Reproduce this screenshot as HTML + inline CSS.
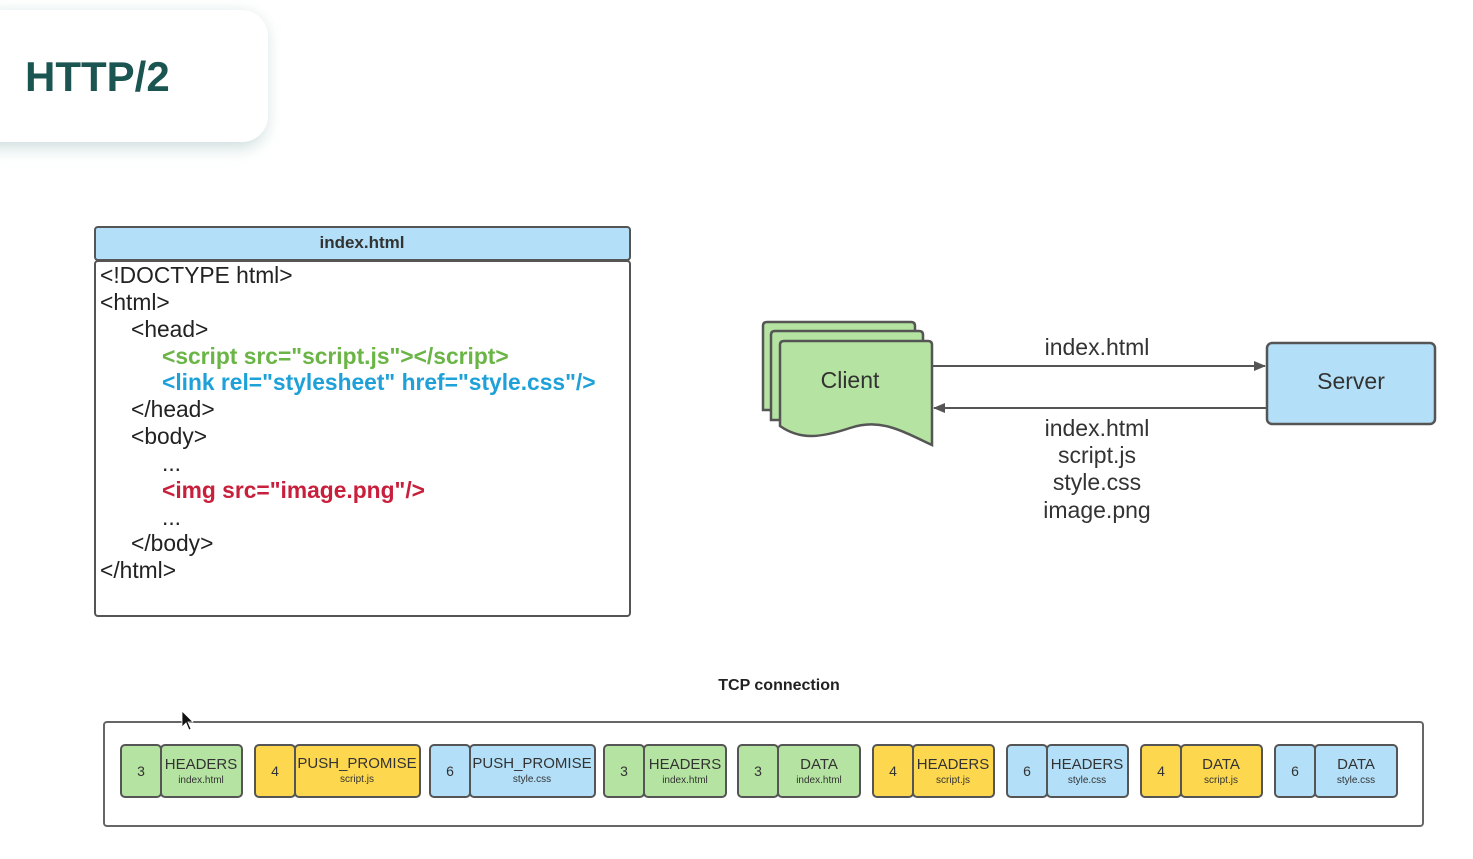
<!DOCTYPE html>
<html><head><meta charset="utf-8"><style>
html,body{margin:0;padding:0;background:#fff;}
svg{display:block;font-family:"Liberation Sans",sans-serif;}
</style></head><body>
<svg width="1473" height="859" viewBox="0 0 1473 859" xmlns="http://www.w3.org/2000/svg">
<defs>
<filter id="sh" x="-20%" y="-30%" width="150%" height="170%"><feGaussianBlur stdDeviation="8"/></filter>
<marker id="ah" markerWidth="12" markerHeight="10" refX="11" refY="5" orient="auto" markerUnits="userSpaceOnUse"><path d="M0,0 L12,5 L0,10 z" fill="#555"/></marker>
</defs>
<rect x="-30" y="14" width="296" height="134" rx="26" fill="#cfdede" filter="url(#sh)"/>
<rect x="-30" y="10" width="298" height="132" rx="26" fill="#fff"/>
<text x="25" y="91" font-size="42" font-weight="bold" fill="#1b5552">HTTP/2</text>

<!-- index.html box -->
<rect x="95" y="227" width="535" height="33" rx="3" fill="#b3e0f8" stroke="#555" stroke-width="2"/>
<text x="362" y="248" font-size="17" font-weight="bold" text-anchor="middle" fill="#333">index.html</text>
<rect x="95" y="261" width="535" height="355" rx="3" fill="#fff" stroke="#555" stroke-width="2"/>
<g font-size="22.8" fill="#222">
<text x="100" y="283">&lt;!DOCTYPE html&gt;</text>
<text x="100" y="310">&lt;html&gt;</text>
<text x="131" y="337">&lt;head&gt;</text>
<text x="162" y="364" fill="#6ab545" font-weight="bold">&lt;script src="script.js"&gt;&lt;/script&gt;</text>
<text x="162" y="390" fill="#1ea1d8" font-weight="bold">&lt;link rel="stylesheet" href="style.css"/&gt;</text>
<text x="131" y="417">&lt;/head&gt;</text>
<text x="131" y="444">&lt;body&gt;</text>
<text x="162" y="471">...</text>
<text x="162" y="498" fill="#c8203c" font-weight="bold">&lt;img src="image.png"/&gt;</text>
<text x="162" y="525">...</text>
<text x="131" y="551">&lt;/body&gt;</text>
<text x="100" y="578">&lt;/html&gt;</text>
</g>

<!-- client -->
<g fill="#b5e3a1" stroke="#555" stroke-width="2.5">
<path d="M763,326 Q763,322 767,322 L911,322 Q915,322 915,326 L915,410 L763,410 Z"/>
<path d="M771,335 Q771,331 775,331 L919,331 Q923,331 923,335 L923,420 L771,420 Z"/>
<path d="M780,345 Q780,341 784,341 L928,341 Q932,341 932,345 L932,445 C900,430 880,418 850,428 C820,438 800,440 780,426 Z"/>
</g>
<text x="850" y="388" font-size="23" text-anchor="middle" fill="#333">Client</text>

<!-- server -->
<rect x="1267" y="343" width="168" height="81" rx="5" fill="#b3e0f8" stroke="#555" stroke-width="2.5"/>
<text x="1351" y="389" font-size="23" text-anchor="middle" fill="#333">Server</text>

<line x1="932" y1="366" x2="1265" y2="366" stroke="#555" stroke-width="2" marker-end="url(#ah)"/>
<line x1="1267" y1="408" x2="934" y2="408" stroke="#555" stroke-width="2" marker-end="url(#ah)"/>
<g font-size="23" text-anchor="middle" fill="#333">
<text x="1097" y="355">index.html</text>
<text x="1097" y="436">index.html</text>
<text x="1097" y="463">script.js</text>
<text x="1097" y="490">style.css</text>
<text x="1097" y="518">image.png</text>
</g>

<text x="779" y="690" font-size="16" font-weight="bold" text-anchor="middle" fill="#222">TCP connection</text>
<rect x="104" y="722" width="1319" height="104" rx="3" fill="#fff" stroke="#666" stroke-width="2"/>

<g stroke="#555" stroke-width="2" font-size="14" fill="#333">
<rect x="121" y="745" width="40" height="52" rx="4" fill="#b5e3a1"/><rect x="161" y="745" width="81" height="52" rx="4" fill="#b5e3a1"/>
<rect x="255" y="745" width="40" height="52" rx="4" fill="#fdd84f"/><rect x="295" y="745" width="125" height="52" rx="4" fill="#fdd84f"/>
<rect x="430" y="745" width="40" height="52" rx="4" fill="#b3e0f8"/><rect x="470" y="745" width="125" height="52" rx="4" fill="#b3e0f8"/>
<rect x="604" y="745" width="40" height="52" rx="4" fill="#b5e3a1"/><rect x="644" y="745" width="82" height="52" rx="4" fill="#b5e3a1"/>
<rect x="738" y="745" width="40" height="52" rx="4" fill="#b5e3a1"/><rect x="778" y="745" width="82" height="52" rx="4" fill="#b5e3a1"/>
<rect x="873" y="745" width="40" height="52" rx="4" fill="#fdd84f"/><rect x="913" y="745" width="81" height="52" rx="4" fill="#fdd84f"/>
<rect x="1007" y="745" width="40" height="52" rx="4" fill="#b3e0f8"/><rect x="1047" y="745" width="81" height="52" rx="4" fill="#b3e0f8"/>
<rect x="1141" y="745" width="40" height="52" rx="4" fill="#fdd84f"/><rect x="1181" y="745" width="81" height="52" rx="4" fill="#fdd84f"/>
<rect x="1275" y="745" width="40" height="52" rx="4" fill="#b3e0f8"/><rect x="1315" y="745" width="82" height="52" rx="4" fill="#b3e0f8"/>
</g>
<g font-size="14" fill="#333" text-anchor="middle">
<text x="141" y="776">3</text><text x="275" y="776">4</text><text x="450" y="776">6</text>
<text x="624" y="776">3</text><text x="758" y="776">3</text><text x="893" y="776">4</text>
<text x="1027" y="776">6</text><text x="1161" y="776">4</text><text x="1295" y="776">6</text>
<text x="201" y="769" font-size="15">HEADERS</text><text x="201" y="783" font-size="10">index.html</text>
<text x="357" y="768" font-size="15">PUSH_PROMISE</text><text x="357" y="782" font-size="10">script.js</text>
<text x="532" y="768" font-size="15">PUSH_PROMISE</text><text x="532" y="782" font-size="10">style.css</text>
<text x="685" y="769" font-size="15">HEADERS</text><text x="685" y="783" font-size="10">index.html</text>
<text x="819" y="769" font-size="15">DATA</text><text x="819" y="783" font-size="10">index.html</text>
<text x="953" y="769" font-size="15">HEADERS</text><text x="953" y="783" font-size="10">script.js</text>
<text x="1087" y="769" font-size="15">HEADERS</text><text x="1087" y="783" font-size="10">style.css</text>
<text x="1221" y="769" font-size="15">DATA</text><text x="1221" y="783" font-size="10">script.js</text>
<text x="1356" y="769" font-size="15">DATA</text><text x="1356" y="783" font-size="10">style.css</text>
</g>
<path d="M182,711 L182,727 L186,723 L189,730 L191,729 L188,722 L193,722 Z" fill="#111" stroke="#fff" stroke-width="0.8"/>
</svg>
</body></html>
